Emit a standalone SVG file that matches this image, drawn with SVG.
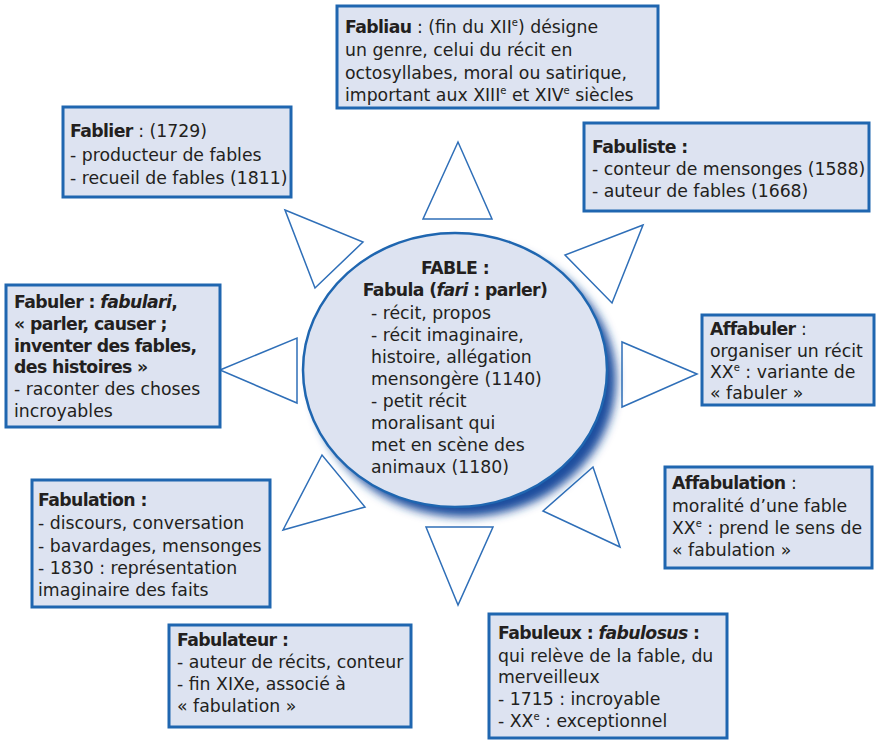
<svg xmlns="http://www.w3.org/2000/svg" width="878" height="740" viewBox="0 0 878 740">
<defs>
<style>
.box{fill:#dde3f1;stroke:#1f66b0;stroke-width:3}
.tri{fill:#ffffff;stroke:#2f6fb8;stroke-width:1.5;stroke-linejoin:miter}
text{font-family:"DejaVu Sans","Open Sans",sans-serif;font-size:17.3px;fill:#231f20}
.b{font-weight:bold;letter-spacing:-0.6px}
.i{font-style:italic}
.sup{font-size:10px}
</style>
<filter id="sh" x="-20%" y="-20%" width="140%" height="140%">
<feGaussianBlur stdDeviation="5"/>
</filter>
</defs>
<g id="connectors">
<polygon class="tri" points="458,142 423,219 492,219"/>
<polygon class="tri" points="285,210 363,242 315,288"/>
<polygon class="tri" points="643,225 565,255 612,303"/>
<polygon class="tri" points="220,370 297,338 297,403"/>
<polygon class="tri" points="697,374 622,342 622,407"/>
<polygon class="tri" points="283,530 322,455 365,507"/>
<polygon class="tri" points="458,605 426,527 493,527"/>
<polygon class="tri" points="620,547 593,467 543,511"/>
</g>
<g id="fable">
<ellipse cx="464" cy="380" rx="152" ry="137" fill="#1d4e9e" filter="url(#sh)"/>
<ellipse cx="455" cy="370" rx="152" ry="137" fill="#dde3f1" stroke="#1f66b0" stroke-width="2.5"/>
<text x="455" y="274" text-anchor="middle" class="b">FABLE :</text>
<text x="455" y="296" text-anchor="middle" class="b">Fabula (<tspan class="i">fari</tspan> : parler)</text>
<text x="371" y="319">- récit, propos</text>
<text x="371" y="341">- récit imaginaire,</text>
<text x="371" y="363">histoire, allégation</text>
<text x="371" y="385">mensongère (1140)</text>
<text x="371" y="407">- petit récit</text>
<text x="371" y="429">moralisant qui</text>
<text x="371" y="451">met en scène des</text>
<text x="371" y="473">animaux (1180)</text>
</g>
<g id="fabliau">
<rect class="box" x="337" y="6" width="321" height="102"/>
<text x="345" y="33"><tspan class="b">Fabliau</tspan> : (fin du XII<tspan class="sup" dy="-7">e</tspan><tspan dy="7">) désigne</tspan></text>
<text x="345" y="56">un genre, celui du récit en</text>
<text x="345" y="79">octosyllabes, moral ou satirique,</text>
<text x="345" y="101">important aux XIII<tspan class="sup" dy="-7">e</tspan><tspan dy="7"> et XIV</tspan><tspan class="sup" dy="-7">e</tspan><tspan dy="7"> siècles</tspan></text>
</g>
<g id="fablier">
<rect class="box" x="63" y="107" width="228" height="90"/>
<text x="70" y="137"><tspan class="b">Fablier</tspan> : (1729)</text>
<text x="70" y="161">- producteur de fables</text>
<text x="70" y="184">- recueil de fables (1811)</text>
</g>
<g id="fabuliste">
<rect class="box" x="584" y="123" width="285" height="88"/>
<text x="592" y="153" class="b">Fabuliste :</text>
<text x="592" y="175">- conteur de mensonges (1588)</text>
<text x="592" y="197">- auteur de fables (1668)</text>
</g>
<g id="fabuler">
<rect class="box" x="6" y="285" width="214" height="142"/>
<text x="14" y="308" class="b">Fabuler : <tspan class="i">fabulari</tspan>,</text>
<text x="14" y="330" class="b">« parler, causer ;</text>
<text x="14" y="352" class="b">inventer des fables,</text>
<text x="14" y="373" class="b">des histoires »</text>
<text x="14" y="395">- raconter des choses</text>
<text x="14" y="417">incroyables</text>
</g>
<g id="affabuler">
<rect class="box" x="702" y="315" width="172" height="90"/>
<text x="710" y="335"><tspan class="b">Affabuler</tspan> :</text>
<text x="710" y="357">organiser un récit</text>
<text x="710" y="378">XX<tspan class="sup" dy="-7">e</tspan><tspan dy="7"> : variante de</tspan></text>
<text x="710" y="399">« fabuler »</text>
</g>
<g id="fabulation">
<rect class="box" x="32" y="480" width="238" height="127"/>
<text x="38" y="506" class="b">Fabulation :</text>
<text x="38" y="529">- discours, conversation</text>
<text x="38" y="552">- bavardages, mensonges</text>
<text x="38" y="574">- 1830 : représentation</text>
<text x="38" y="596">imaginaire des faits</text>
</g>
<g id="affabulation">
<rect class="box" x="665" y="467" width="207" height="101"/>
<text x="672" y="489"><tspan class="b">Affabulation</tspan> :</text>
<text x="672" y="512">moralité d’une fable</text>
<text x="672" y="534">XX<tspan class="sup" dy="-7">e</tspan><tspan dy="7"> : prend le sens de</tspan></text>
<text x="672" y="556">« fabulation »</text>
</g>
<g id="fabulateur">
<rect class="box" x="169" y="625" width="242" height="102"/>
<text x="177" y="646" class="b">Fabulateur :</text>
<text x="177" y="668">- auteur de récits, conteur</text>
<text x="177" y="690">- fin XIXe, associé à</text>
<text x="177" y="712">« fabulation »</text>
</g>
<g id="fabuleux">
<rect class="box" x="489" y="614" width="238" height="124"/>
<text x="498" y="639" class="b">Fabuleux : <tspan class="i">fabulosus</tspan> :</text>
<text x="498" y="662">qui relève de la fable, du</text>
<text x="498" y="683">merveilleux</text>
<text x="498" y="705">- 1715 : incroyable</text>
<text x="498" y="727">- XX<tspan class="sup" dy="-7">e</tspan><tspan dy="7"> : exceptionnel</tspan></text>
</g>
</svg>
